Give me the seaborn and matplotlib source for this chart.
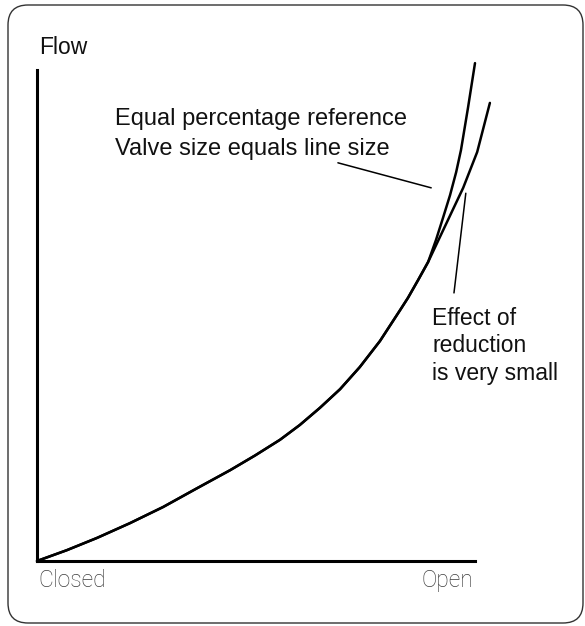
import numpy as np
import pandas as pd
import seaborn as sns
import matplotlib.pyplot as plt
from matplotlib.patches import FancyBboxPatch
from matplotlib.transforms import IdentityTransform

# valve opening (0 = closed, 1 = open) and relative flow
shared_x = [0, 0.068, 0.137, 0.212, 0.288, 0.363, 0.441, 0.498, 0.555, 0.600,
            0.646, 0.692, 0.737, 0.783, 0.829, 0.847, 0.870, 0.893]
shared_y = [0, 0.022, 0.047, 0.077, 0.110, 0.147, 0.185, 0.215, 0.247, 0.277,
            0.312, 0.350, 0.395, 0.448, 0.511, 0.536, 0.572, 0.609]
# equal percentage, valve size = line size
ref_x = [0.911, 0.927, 0.943, 0.957, 0.968, 0.984, 1.0]
ref_y = [0.654, 0.699, 0.745, 0.792, 0.837, 0.923, 1.014]
# reduced valve
red_x = [0.920, 0.947, 0.973, 1.005, 1.034]
red_y = [0.660, 0.711, 0.760, 0.833, 0.933]

# leader lines for the notes
lead1_x = [0.687, 0.900]
lead1_y = [0.811, 0.760]
lead2_x = [0.979, 0.952]
lead2_y = [0.749, 0.546]

ylabel = 'Flow'
xlabels = ['Closed', 'Open']
note1 = ['Equal percentage reference', 'Valve size equals line size']
note2 = ['Effect of', 'reduction', 'is very small']

sns.set_style('white')
plt.rcParams['font.family'] = ['Liberation Sans', 'DejaVu Sans']

W, H = 585, 626
fig = plt.figure(figsize=(W / 100, H / 100), dpi=100)
ax = fig.add_axes([0, 0, 1, 1])
ax.patch.set_visible(False)

df_ref = pd.DataFrame({'x': shared_x + ref_x, 'y': shared_y + ref_y})
df_red = pd.DataFrame({'x': shared_x + red_x, 'y': shared_y + red_y})
sns.lineplot(data=df_ref, x='x', y='y', color='black', linewidth=1.8,
             sort=False, estimator=None, ax=ax)
sns.lineplot(data=df_red, x='x', y='y', color='black', linewidth=1.8,
             sort=False, estimator=None, ax=ax)
ax.plot(lead1_x, lead1_y, color='black', linewidth=1.1)
ax.plot(lead2_x, lead2_y, color='black', linewidth=1.1)

ax.set_xlim(-37 / 438, 548 / 438)
ax.set_ylim(-65 / 491, 561 / 491)
for s in ['top', 'right']:
    ax.spines[s].set_visible(False)
for s in ['left', 'bottom']:
    ax.spines[s].set_visible(True)
    ax.spines[s].set_position(('data', 0))
    ax.spines[s].set_bounds(0, 1)
    ax.spines[s].set_linewidth(2.2)
    ax.spines[s].set_color('black')
    ax.spines[s].set_capstyle('projecting')
ax.set_xticks([])
ax.set_yticks([])
ax.set_xlabel('')
ax.set_ylabel('')


def px(x, y):
    return x / W, 1 - y / H


fs = 16.5
fig.text(*px(39, 54), ylabel, fontsize=fs, va='baseline', ha='left', color='#111111')
for i, t in enumerate(note1):
    fig.text(*px(115, 125 + 30 * i), t, fontsize=17, va='baseline', ha='left', color='#111111')
for i, t in enumerate(note2):
    fig.text(*px(432, 325 + 27.5 * i), t, fontsize=fs, va='baseline', ha='left', color='#111111')
fig.text(*px(38, 587), xlabels[0], fontsize=fs, va='baseline', ha='left',
         color='#3c3c3c', family='Roboto', fontweight='light')
fig.text(*px(473, 587), xlabels[1], fontsize=fs, va='baseline', ha='right',
         color='#3c3c3c', family='Roboto', fontweight='light')

box = FancyBboxPatch((8, H - 623), 575, 618, boxstyle='round,pad=0,rounding_size=20',
                     transform=IdentityTransform(), facecolor='none',
                     edgecolor='#333333', linewidth=1.0)
fig.add_artist(box)

fig.savefig('out.png', dpi=100)
